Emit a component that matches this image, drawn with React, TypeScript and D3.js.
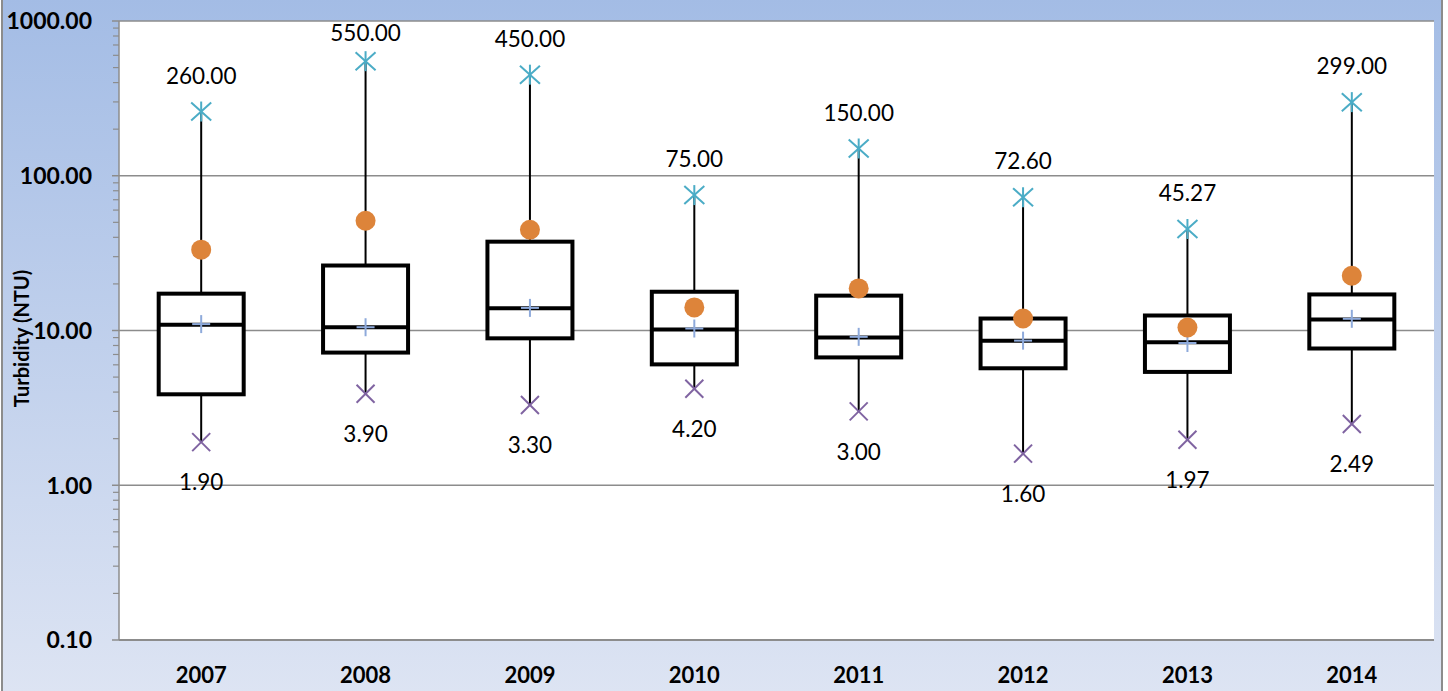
import React from "react";
import * as d3 from "d3";

const years = ["2007", "2008", "2009", "2010", "2011", "2012", "2013", "2014"];
const minVals = [1.9, 3.9, 3.3, 4.2, 3.0, 1.6, 1.97, 2.49];
const q1Vals = [3.87, 7.2, 8.9, 6.04, 6.7, 5.7, 5.4, 7.65];
const medianVals = [10.9, 10.5, 13.9, 10.15, 9.0, 8.6, 8.4, 11.8];
const q3Vals = [17.3, 26.3, 37.5, 17.8, 16.8, 11.95, 12.5, 17.1];
const maxVals = [260, 550, 450, 75, 150, 72.6, 45.27, 299];
const meanVals = [33.3, 51.2, 44.8, 14.1, 18.7, 11.95, 10.45, 22.6];
const plusVals = [11.0, 10.5, 14.0, 10.3, 9.1, 8.6, 8.3, 11.9];
const yTicks = [0.1, 1, 10, 100, 1000];
const yTitle = "Turbidity (NTU)";

const W = 1448;
const H = 691;
const plot = { left: 119, right: 1434, top: 21, bottom: 640 };
const FONT = "Lato, 'Open Sans', sans-serif";

export default function App() {
  const y = d3.scaleLog().domain([0.1, 1000]).range([plot.bottom, plot.top]);
  const x = d3.scaleBand<string>().domain(years).range([plot.left, plot.right]).paddingInner(0).paddingOuter(0);
  const step = x.step();
  const boxW = 85;

  const minorTicks: number[] = [];
  for (let e = -1; e < 3; e++) {
    for (let m = 2; m <= 9; m++) minorTicks.push(m * Math.pow(10, e));
  }

  const starHalf = 10;
  const xHalf = 9;

  return (
    <div style={{ position: "absolute", left: 0, top: 0 }}>
      <svg width={W} height={H} style={{ display: "block" }}>
        <defs>
          <linearGradient id="bg" x1="0" y1="0" x2="0" y2="1">
            <stop offset="0" stopColor="#A3BCE5" />
            <stop offset="1" stopColor="#DDE4F3" />
          </linearGradient>
        </defs>
        <rect x={2} y={-2} width={1440} height={H + 4} fill="url(#bg)" stroke="#8C8C8C" strokeWidth={2} />
        <rect x={plot.left} y={plot.top} width={plot.right - plot.left} height={plot.bottom - plot.top} fill="#fff" />
        {yTicks.map((t) => (
          <line key={"g" + t} x1={plot.left} x2={plot.right} y1={y(t)} y2={y(t)} stroke="#8C8C8C" strokeWidth={t === 0.1 ? 2 : 1.5} />
        ))}
        <line x1={plot.left} x2={plot.left} y1={plot.top} y2={plot.bottom} stroke="#8C8C8C" strokeWidth={1.5} />
        {yTicks.map((t) => (
          <line key={"mt" + t} x1={plot.left - 7} x2={plot.left} y1={y(t)} y2={y(t)} stroke="#8C8C8C" strokeWidth={1.5} />
        ))}
        {minorTicks.map((t) => (
          <line key={"mn" + t} x1={plot.left - 6} x2={plot.left} y1={y(t)} y2={y(t)} stroke="#8C8C8C" strokeWidth={1.2} />
        ))}
        {yTicks.map((t) => (
          <text key={"tl" + t} x={92} y={y(t)} dy="0.36em" textAnchor="end" fontFamily={FONT} fontWeight="bold" fontSize={23} fill="#000">
            {t.toFixed(2)}
          </text>
        ))}
        <text transform={`translate(29,${(plot.top + plot.bottom) / 2 + 8}) rotate(-90)`} textAnchor="middle" fontFamily={FONT} fontWeight="bold" fontSize={20} fill="#000">
          {yTitle}
        </text>
        {years.map((yr) => (
          <text key={"xl" + yr} x={(x(yr) as number) + step / 2} y={683} textAnchor="middle" fontFamily={FONT} fontWeight="bold" fontSize={22} fill="#000">
            {yr}
          </text>
        ))}
        {years.map((yr, i) => {
          const cx = (x(yr) as number) + step / 2;
          const yMax = y(maxVals[i]);
          const yMin = y(minVals[i]);
          const yQ1 = y(q1Vals[i]);
          const yQ3 = y(q3Vals[i]);
          const yMed = y(medianVals[i]);
          const yMean = y(meanVals[i]);
          const yPlus = y(plusVals[i]);
          const maxLabelY = Math.max(yMax - 36, plot.top + 12);
          return (
            <g key={"b" + yr}>
              <line x1={cx} x2={cx} y1={yMax} y2={yMin} stroke="#000" strokeWidth={2} />
              <rect x={cx - boxW / 2} y={yQ3} width={boxW} height={yQ1 - yQ3} fill="#fff" stroke="#000" strokeWidth={4} />
              <line x1={cx - boxW / 2} x2={cx + boxW / 2} y1={yMed} y2={yMed} stroke="#000" strokeWidth={4} />
              <g stroke="#8EAADB" strokeWidth={2}>
                <line x1={cx - 9} x2={cx + 9} y1={yPlus} y2={yPlus} />
                <line x1={cx} x2={cx} y1={yPlus - 9} y2={yPlus + 9} />
              </g>
              <circle cx={cx} cy={yMean} r={10} fill="#DD843A" />
              <g stroke="#4BACC6" strokeWidth={2}>
                <line x1={cx - starHalf} x2={cx + starHalf} y1={yMax - starHalf * 0.9} y2={yMax + starHalf * 0.9} />
                <line x1={cx - starHalf} x2={cx + starHalf} y1={yMax + starHalf * 0.9} y2={yMax - starHalf * 0.9} />
                <line x1={cx} x2={cx} y1={yMax - starHalf} y2={yMax + starHalf} />
              </g>
              <g stroke="#7F63A1" strokeWidth={2}>
                <line x1={cx - xHalf} x2={cx + xHalf} y1={yMin - xHalf} y2={yMin + xHalf} />
                <line x1={cx - xHalf} x2={cx + xHalf} y1={yMin + xHalf} y2={yMin - xHalf} />
              </g>
              <text x={cx} y={maxLabelY} dy="0.36em" textAnchor="middle" fontFamily={FONT} fontSize={22.5} fill="#000">
                {maxVals[i].toFixed(2)}
              </text>
              <text x={cx} y={yMin + 40} dy="0.36em" textAnchor="middle" fontFamily={FONT} fontSize={22.5} fill="#000">
                {minVals[i].toFixed(2)}
              </text>
            </g>
          );
        })}
      </svg>
    </div>
  );
}
